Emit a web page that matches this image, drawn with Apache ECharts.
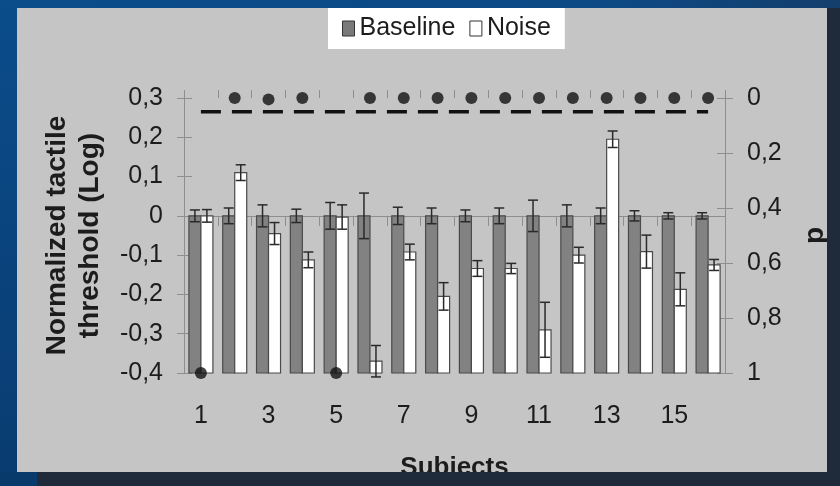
<!DOCTYPE html>
<html>
<head>
<meta charset="utf-8">
<script src="https://cdn.jsdelivr.net/npm/echarts@6/dist/echarts.min.js"></script>
<style>
  html, body { margin:0; padding:0; width:840px; height:486px; overflow:hidden; background:#1f2b3b; }
  #topband { position:absolute; left:0; top:0; width:840px; height:8px; background:linear-gradient(to right,#0b4c8b,#0c4a86 70%,#143f6c); }
  #leftband { position:absolute; left:0; top:0; width:17px; height:486px; background:linear-gradient(to bottom,#0b4c8b,#093c70); }
  #botleft { position:absolute; left:0; top:472px; width:37px; height:14px; background:#093a6c; }
  #chart { position:absolute; left:17px; top:8px; width:810px; height:464px; background:#c5c5c5; }
</style>
</head>
<body>
<div id="topband"></div>
<div id="leftband"></div>
<div id="botleft"></div>
<div id="chart"></div>
<script>
// ---- data ----
const subjects = ['1','2','3','4','5','6','7','8','9','10','11','12','13','14','15','16'];
const baseline = [0, 0, 0, 0, 0, 0, 0, 0, 0, 0, 0, 0, 0, 0, 0, 0];
const baselineErr = [0.015, 0.02, 0.028, 0.017, 0.034, 0.058, 0.022, 0.02, 0.015, 0.02, 0.04, 0.028, 0.02, 0.013, 0.008, 0.008];
const noise = [0, 0.11, -0.045, -0.112, -0.003, -0.37, -0.092, -0.205, -0.134, -0.134, -0.29, -0.1, 0.195, -0.091, -0.187, -0.125];
const noiseErr = [0.016, 0.02, 0.028, 0.02, 0.031, 0.04, 0.02, 0.035, 0.02, 0.013, 0.07, 0.02, 0.021, 0.042, 0.042, 0.014];
const pValues = [1, 0, 0.005, 0, 1, 0, 0, 0, 0, 0, 0, 0, 0, 0, 0, 0];
const sigLevel = [0.05, 0.05, 0.05, 0.05, 0.05, 0.05, 0.05, 0.05, 0.05, 0.05, 0.05, 0.05, 0.05, 0.05, 0.05, 0.05];
const leftTickValues = [-0.4, -0.3, -0.2, -0.1, 0, 0.1, 0.2, 0.3];
const leftTickLabels = ['-0,4', '-0,3', '-0,2', '-0,1', '0', '0,1', '0,2', '0,3'];
const rightTickValues = [0, 0.2, 0.4, 0.6, 0.8, 1];
const rightTickLabels = ['0', '0,2', '0,4', '0,6', '0,8', '1'];

const Y_MIN = -0.4, Y_MAX = 0.3;
const FONT = '"Liberation Sans", Arial, sans-serif';
const TXT = '#1c1c1c';
const AXC = '#8e8e8e';

function lookup(vals, labels, v) {
  const i = vals.findIndex(t => Math.abs(t - v) < 1e-9);
  return i >= 0 ? labels[i] : '';
}

function makeBarRender(side, fill, stroke) {
  return function (params, api) {
    const i = api.value(0), v = api.value(1), e = api.value(2);
    const band = api.size([1, 0])[0];
    const bw = band * 0.355;
    const c = api.coord([i, v]);
    const b = api.coord([i, Y_MIN]);
    const x0 = side === 0 ? c[0] - bw : c[0];
    const cx = x0 + bw / 2;
    const hi = api.coord([i, v + e])[1];
    const lo = api.coord([i, v - e])[1];
    const cap = 5;
    const es = { stroke: '#2a2a2a', lineWidth: 1.5 };
    return {
      type: 'group',
      children: [
        { type: 'rect', shape: { x: x0, y: c[1], width: bw, height: b[1] - c[1] }, style: { fill: fill, stroke: stroke, lineWidth: 1.2 } },
        { type: 'line', shape: { x1: cx, y1: hi, x2: cx, y2: lo }, style: es },
        { type: 'line', shape: { x1: cx - cap, y1: hi, x2: cx + cap, y2: hi }, style: es },
        { type: 'line', shape: { x1: cx - cap, y1: lo, x2: cx + cap, y2: lo }, style: es }
      ]
    };
  };
}

const chart = echarts.init(document.getElementById('chart'), null, { renderer: 'canvas' });
const option = {
  backgroundColor: '#c5c5c5',
  animation: false,
  textStyle: { fontFamily: FONT },
  legend: {
    left: 311, top: 0,
    backgroundColor: '#ffffff',
    padding: [8, 14, 8, 14],
    itemGap: 14,
    itemWidth: 12, itemHeight: 15,
    icon: 'rect',
    textStyle: { fontFamily: FONT, fontSize: 25, color: TXT },
    data: [
      { name: 'Baseline', itemStyle: { color: '#7a7a7a', borderColor: '#333', borderWidth: 1 } },
      { name: 'Noise', itemStyle: { color: '#ffffff', borderColor: '#333', borderWidth: 1 } }
    ]
  },
  grid: { left: 167, top: 90, width: 541, height: 275, containLabel: false, outerBoundsMode: 'none' },
  xAxis: [
    {
      type: 'category', data: subjects, position: 'bottom',
      axisLine: { show: true, lineStyle: { color: AXC, width: 1 } },
      axisTick: { show: true, interval: 0, length: 10, lineStyle: { color: AXC } },
      axisLabel: { interval: 1, margin: 31, fontSize: 25, color: TXT, fontFamily: FONT },
      name: 'Subjects', nameLocation: 'middle', nameGap: 82,
      nameTextStyle: { fontSize: 26, fontWeight: 'bold', color: TXT, fontFamily: FONT, verticalAlign: 'top' }
    },
    {
      type: 'category', data: subjects, position: 'bottom',
      axisLine: { show: false },
      axisTick: { show: true, inside: true, interval: 0, length: 8, lineStyle: { color: AXC } },
      axisLabel: { show: false }
    }
  ],
  yAxis: [
    {
      type: 'value', position: 'left', min: Y_MIN, max: Y_MAX, interval: 0.1,
      axisLine: { show: true, lineStyle: { color: AXC } },
      axisTick: { show: true, length: 7, lineStyle: { color: AXC } },
      splitLine: { show: false },
      axisLabel: { margin: 21, fontSize: 25, color: TXT, fontFamily: FONT,
        formatter: v => lookup(leftTickValues, leftTickLabels, v) },
      name: 'Normalized tactile\nthreshold (Log)', nameLocation: 'middle', nameRotate: 90, nameGap: 77,
      nameTextStyle: { fontSize: 28, fontWeight: 'bold', color: TXT, fontFamily: FONT, lineHeight: 33 }
    },
    {
      type: 'value', position: 'right', min: 0, max: 1, interval: 0.2, inverse: true,
      axisLine: { show: true, lineStyle: { color: AXC } },
      axisTick: { show: true, length: 8, lineStyle: { color: AXC } },
      splitLine: { show: false },
      axisLabel: { margin: 22, fontSize: 25, color: TXT, fontFamily: FONT,
        formatter: v => lookup(rightTickValues, rightTickLabels, v) },
      name: 'p', nameLocation: 'middle', nameRotate: 90, nameGap: 76,
      nameTextStyle: { fontSize: 28, fontWeight: 'bold', color: TXT, fontFamily: FONT }
    },
    {
      type: 'value', position: 'left', min: Y_MIN, max: Y_MAX, interval: 0.1,
      axisLine: { show: false }, splitLine: { show: false }, axisLabel: { show: false },
      axisTick: { show: true, inside: true, length: 8, lineStyle: { color: AXC } }
    },
    {
      type: 'value', position: 'right', min: 0, max: 1, interval: 0.2, inverse: true,
      axisLine: { show: false }, splitLine: { show: false }, axisLabel: { show: false },
      axisTick: { show: true, inside: true, length: 8, lineStyle: { color: AXC } }
    }
  ],
  series: [
    {
      name: 'Baseline', type: 'custom', xAxisIndex: 0, yAxisIndex: 0,
      itemStyle: { color: '#808080' },
      renderItem: makeBarRender(0, '#828282', '#4a4a4a'),
      encode: { x: 0, y: 1 },
      data: subjects.map((s, i) => [i, baseline[i], baselineErr[i]]),
      z: 2
    },
    {
      name: 'Noise', type: 'custom', xAxisIndex: 0, yAxisIndex: 0,
      itemStyle: { color: '#ffffff' },
      renderItem: makeBarRender(1, '#ffffff', '#4a4a4a'),
      encode: { x: 0, y: 1 },
      data: subjects.map((s, i) => [i, noise[i], noiseErr[i]]),
      z: 2
    },
    {
      name: 'p=0.05', type: 'line', xAxisIndex: 0, yAxisIndex: 1,
      data: sigLevel, symbol: 'none', clip: false,
      lineStyle: { color: '#111', width: 3.5, type: [20, 11] },
      z: 3
    },
    {
      name: 'p', type: 'scatter', xAxisIndex: 0, yAxisIndex: 1,
      data: pValues, symbol: 'circle', symbolSize: 12, clip: false,
      itemStyle: { color: '#111' },
      z: 4
    }
  ]
};
chart.setOption(option);
</script>
</body>
</html>
